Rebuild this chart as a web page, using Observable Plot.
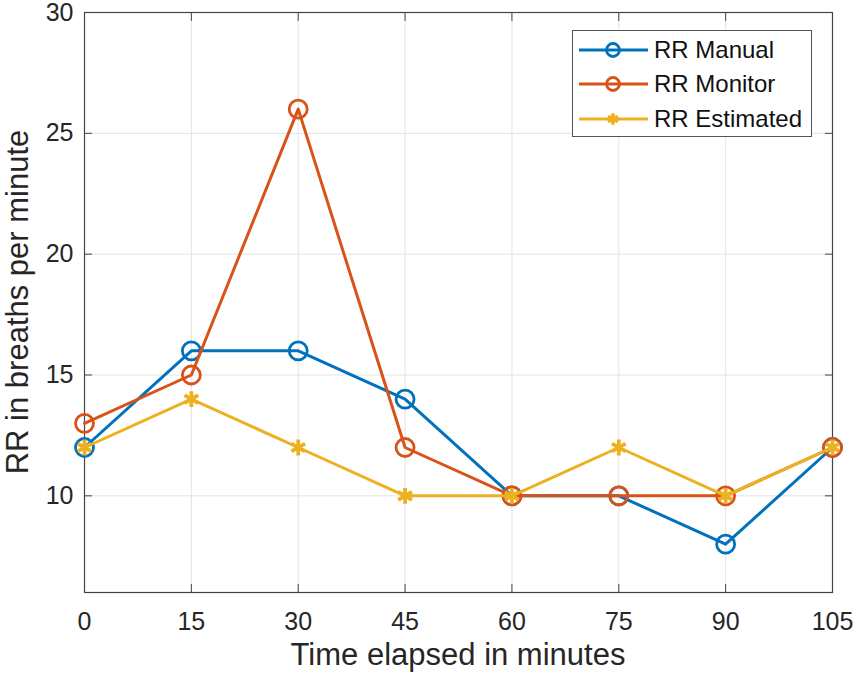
<!DOCTYPE html>
<html>
<head>
<meta charset="utf-8">
<script src="https://cdn.jsdelivr.net/npm/d3@7"></script>
<script src="https://cdn.jsdelivr.net/npm/@observablehq/plot@0.6"></script>
<style>
  body { margin: 0; background: white; }
  #wrap { position: relative; width: 858px; height: 683px; font-family: "Liberation Sans", Arial, sans-serif; color: #262626; }
  #wrap svg { display: block; }
  #legend { position: absolute; left: 572px; top: 30px; width: 240px; height: 107px; box-sizing: border-box; border: 1px solid #555; background: white; }
</style>
</head>
<body>
<div id="wrap"></div>
<script>
const times = [0, 15, 30, 45, 60, 75, 90, 105];
const seriesNames = ["RR Manual", "RR Monitor", "RR Estimated"];
const seriesColors = ["#0072BD", "#D95319", "#EDB120"];
const seriesSymbols = ["circle", "circle", "asterisk"];
const manual = [12, 16, 16, 14, 10, 10, 8, 12];
const monitor = [13, 15, 26, 12, 10, 10, 10, 12];
const estimated = [12, 14, 12, 10, 10, 12, 10, 12];
const yTicks = [10, 15, 20, 25, 30];
const xLabel = "Time elapsed in minutes";
const yLabel = "RR in breaths per minute";

const values = [manual, monitor, estimated];
const data = [];
seriesNames.forEach((name, i) => {
  times.forEach((t, j) => data.push({series: name, t, v: values[i][j]}));
});

const seriesMarks = [];
seriesNames.forEach((name, i) => {
  const d = data.filter(r => r.series === name);
  seriesMarks.push(Plot.line(d, {x: "t", y: "v", stroke: "series", strokeWidth: 3}));
  seriesMarks.push(Plot.dot(d, {x: "t", y: "v", stroke: "series", symbol: () => seriesSymbols[i], r: seriesSymbols[i] === "circle" ? 9 : 7.5, strokeWidth: seriesSymbols[i] === "circle" ? 2.8 : 3.8, fill: "none"}));
});

const chart = Plot.plot({
  width: 858,
  height: 683,
  marginLeft: 84,
  marginRight: 26,
  marginTop: 12,
  marginBottom: 91,
  style: {fontFamily: "'Liberation Sans', Arial, sans-serif", fontSize: "25px", color: "#262626", background: "white"},
  x: {domain: [0, 105], label: null},
  y: {domain: [6, 30], label: null},
  color: {domain: seriesNames, range: seriesColors},
  marks: [
    Plot.gridX(times, {stroke: "#e3e3e3", strokeOpacity: 1, strokeWidth: 1}),
    Plot.gridY(yTicks, {stroke: "#e3e3e3", strokeOpacity: 1, strokeWidth: 1}),
    Plot.frame({stroke: "#444", strokeWidth: 1.2}),
    Plot.axisX({ticks: times, tickSize: -8, text: null, stroke: "#444"}),
    Plot.axisX({anchor: "top", ticks: times, tickSize: -8, text: null, stroke: "#444"}),
    Plot.axisY({ticks: yTicks, tickSize: -8, text: null, stroke: "#444"}),
    Plot.axisY({anchor: "right", ticks: yTicks, tickSize: -8, text: null, stroke: "#444"}),
    Plot.axisX({ticks: times, tickSize: 0, tickPadding: 20, label: null, fill: "#262626"}),
    Plot.axisY({ticks: yTicks, tickSize: 0, tickPadding: 11, label: null, fill: "#262626"}),
    ...seriesMarks
  ]
});

const wrap = document.getElementById("wrap");
wrap.appendChild(chart);

const svg = d3.select(chart);
svg.append("text")
  .attr("x", 458).attr("y", 665)
  .attr("text-anchor", "middle")
  .attr("font-size", 31).attr("fill", "#262626")
  .attr("font-family", "'Liberation Sans', Arial, sans-serif")
  .text(xLabel);
svg.append("text")
  .attr("transform", "translate(28,302) rotate(-90)")
  .attr("text-anchor", "middle")
  .attr("font-size", 31).attr("fill", "#262626")
  .attr("font-family", "'Liberation Sans', Arial, sans-serif")
  .text(yLabel);

// legend
const leg = document.createElement("div");
leg.id = "legend";
wrap.appendChild(leg);
const lsvg = d3.select(leg).append("svg").attr("width", 238).attr("height", 105);
const rowY = [19, 53, 88];
seriesNames.forEach((name, i) => {
  const g = lsvg.append("g").attr("transform", `translate(0,${rowY[i]})`);
  g.append("line").attr("x1", 6).attr("x2", 75).attr("y1", 0).attr("y2", 0)
    .attr("stroke", seriesColors[i]).attr("stroke-width", 3);
  if (seriesSymbols[i] === "circle") {
    g.append("circle").attr("cx", 40).attr("cy", 0).attr("r", 6.5)
      .attr("fill", "none").attr("stroke", seriesColors[i]).attr("stroke-width", 2.8);
  } else {
    g.append("path").attr("transform", "translate(40,0)")
      .attr("d", d3.symbol(d3.symbolAsterisk, 90)())
      .attr("fill", "none").attr("stroke", seriesColors[i]).attr("stroke-width", 3.5);
  }
  g.append("text").attr("x", 81).attr("y", 0).attr("dy", "0.35em")
    .attr("font-size", 24).attr("font-family", "'Liberation Sans', Arial, sans-serif")
    .attr("fill", "#111").text(name);
});
</script>
</body>
</html>
